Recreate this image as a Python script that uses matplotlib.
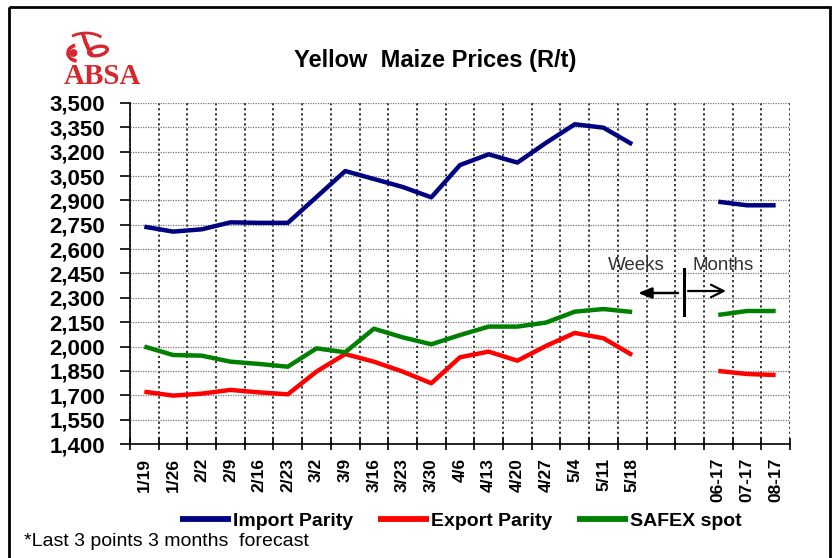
import numpy as np
import matplotlib
matplotlib.use("Agg")
import matplotlib.pyplot as plt
from matplotlib.patches import Rectangle, Circle, Arc, Ellipse
from matplotlib.lines import Line2D

plt.rcParams['font.family'] = ['Liberation Sans', 'DejaVu Sans']

nan = np.nan
labels = ['1/19', '1/26', '2/2', '2/9', '2/16', '2/23', '3/2', '3/9', '3/16', '3/23',
          '3/30', '4/6', '4/13', '4/20', '4/27', '5/4', '5/11', '5/18', '', '',
          '06-17', '07-17', '08-17']
import_parity = [2738, 2708, 2722, 2765, 2762, 2762, 2921, 3081, 3032, 2983, 2919, 3118,
                 3184, 3133, 3255, 3369, 3348, 3246, nan, nan, 2892, 2870, 2870]
export_parity = [1722, 1698, 1710, 1733, 1718, 1706, 1846, 1954, 1907, 1846, 1774, 1934,
                 1969, 1913, 2004, 2084, 2051, 1948, nan, nan, 1850, 1831, 1825]
safex_spot = [2000, 1948, 1944, 1907, 1893, 1876, 1989, 1965, 2110, 2057, 2014, 2071,
              2123, 2123, 2148, 2215, 2231, 2213, nan, nan, 2195, 2219, 2219]
y_ticks = list(range(1400, 3501, 150))

W, H = 836, 558
fig = plt.figure(figsize=(W / 100, H / 100), dpi=100)
ax = fig.add_axes([130 / W, 1 - 444 / H, 660 / W, 341 / H])

x = np.arange(len(labels))
ax.plot(x, import_parity, color='#000080', lw=3.2, label='Import Parity', solid_capstyle='butt')
ax.plot(x, export_parity, color='#ff0000', lw=3.2, label='Export Parity', solid_capstyle='butt')
ax.plot(x, safex_spot, color='#008000', lw=3.2, label='SAFEX spot', solid_capstyle='butt')

ax.set_xlim(-0.5, len(labels) - 0.5)
ax.set_ylim(1400, 3500)
ax.set_yticks(y_ticks)
ax.set_yticklabels([f'{v:,}' for v in y_ticks], fontsize=16, fontweight='bold')

ax.set_xticks(np.arange(-0.5, len(labels), 1.0))
ax.set_xticklabels([])
ax.set_xticks(x, minor=True)
ax.set_xticklabels(labels, minor=True, rotation=90, fontsize=12.5, fontweight='bold')
ax.tick_params(axis='x', which='major', direction='inout', length=9, width=1.2)
ax.tick_params(axis='x', which='minor', length=0, pad=10)
ax.tick_params(axis='y', direction='out', length=7, width=1.2, pad=11)

ax.grid(axis='y', which='major', color='#777777', linestyle=(0, (1, 1)), lw=0.9)
ax.grid(axis='x', which='major', color='#222222', linestyle=(0, (1.2, 1.6)), lw=1.3)
ax.spines['top'].set_visible(False)
ax.spines['right'].set_visible(False)
ax.spines['left'].set_linewidth(1.2)
ax.spines['bottom'].set_linewidth(1.2)
ax.set_axisbelow(True)

# Weeks / Months annotation
ax.text(0.7667, 0.522, 'Weeks', transform=ax.transAxes, ha='center', va='center',
        fontsize=13.5, color='#333333')
ax.text(0.8985, 0.522, 'Months', transform=ax.transAxes, ha='center', va='center',
        fontsize=13.5, color='#333333')
ax.annotate('', xy=(0.7697, 0.4428), xytext=(0.8303, 0.4428), xycoords='axes fraction',
            arrowprops=dict(arrowstyle='-|>,head_length=0.8,head_width=0.32', color='black',
                            lw=1.8, shrinkA=0, shrinkB=0))
ax.annotate('', xy=(0.903, 0.4487), xytext=(0.8455, 0.4487), xycoords='axes fraction',
            arrowprops=dict(arrowstyle='->,head_length=0.9,head_width=0.45', color='black',
                            lw=1.6, shrinkA=0, shrinkB=0))
ax.add_line(Line2D([0.8394, 0.8394], [0.3783, 0.5132], transform=ax.transAxes,
                   color='black', lw=2.2))

fig.text(435 / W, 1 - 60 / H, 'Yellow  Maize Prices (R/t)', ha='center', va='center',
         fontsize=17, fontweight='bold')

fig.legend(loc='center', bbox_to_anchor=(461 / W, 1 - 521 / H), ncol=3, frameon=False,
           prop={'size': 14, 'weight': 'bold'}, handlelength=2.6, handletextpad=0.1,
           columnspacing=1.3, borderpad=0)
for line in fig.legends[0].get_lines():
    line.set_linewidth(4.2)

fig.text(24 / W, 1 - 541 / H, '*Last 3 points 3 months  forecast', ha='left', va='center',
         fontsize=14)

# overlay for frame and logo (pixel coords)
ov = fig.add_axes([0, 0, 1, 1])
ov.set_xlim(0, W)
ov.set_ylim(H, 0)
ov.axis('off')
ov.patch.set_alpha(0)
ov.add_patch(Rectangle((9, 7), 821, 600, fill=False, lw=2, edgecolor='black', clip_on=False))
red = '#d7262e'
ov.text(102.5, 76.5, 'ABSA', ha='center', va='center', fontsize=21, fontweight='bold',
        color=red, family='Liberation Serif')
ov.add_patch(Circle((73.5, 53), 3.2, color=red))
ov.add_patch(Arc((78, 53), 20, 16, theta1=100, theta2=250, lw=2.6, color=red))
ov.add_line(Line2D([83, 85.5, 89, 92], [34, 42, 50, 55], color=red, lw=2.8,
                   solid_capstyle='round'))
ov.add_patch(Ellipse((98, 51), 19, 9, angle=-12, fill=False, lw=2.4, color=red))
ov.add_patch(Arc((86, 46), 42, 26, theta1=215, theta2=330, lw=2.0, color=red))

fig.savefig('out.png', dpi=100)
